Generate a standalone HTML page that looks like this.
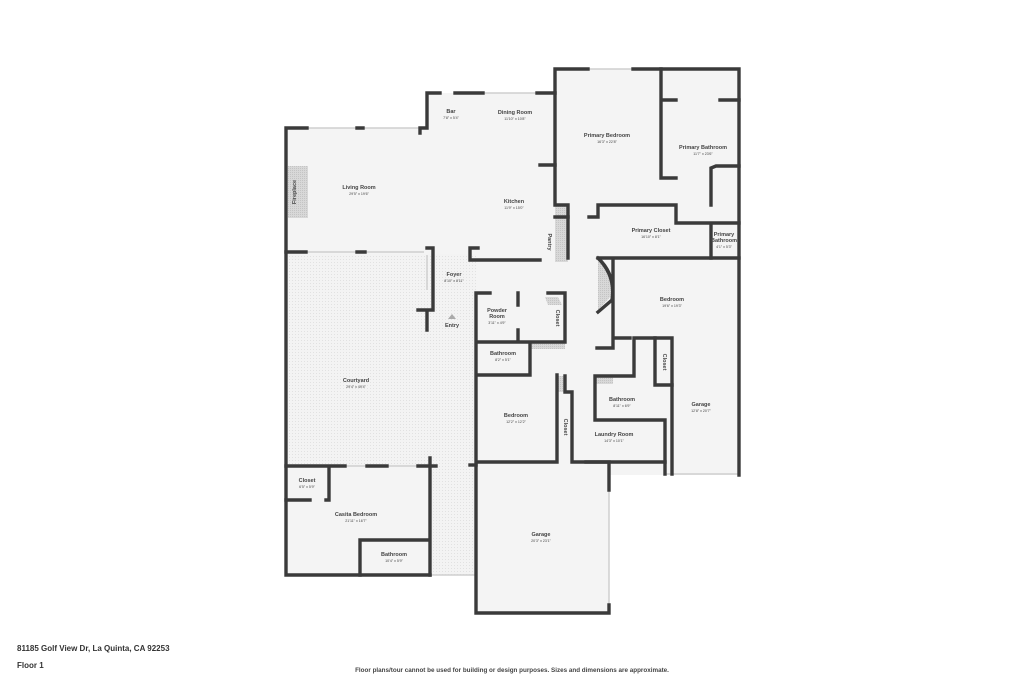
<!DOCTYPE html>
<html><head><meta charset="utf-8"><style>
html,body{margin:0;padding:0;background:#fff;}
svg{display:block;}
text{font-family:"Liberation Sans",sans-serif;fill:#444;}
.n{font-size:5.5px;font-weight:bold;text-anchor:middle;}
.d{font-size:3.6px;text-anchor:middle;}
</style></head><body>
<svg width="1024" height="683" viewBox="0 0 1024 683" xmlns="http://www.w3.org/2000/svg">
<defs>
<pattern id="dots" width="3" height="3" patternUnits="userSpaceOnUse"><rect width="3" height="3" fill="#f3f3f3"/><circle cx="1.5" cy="1.5" r="0.5" fill="#dcdcdc"/></pattern>
<pattern id="hatch" width="2" height="2" patternUnits="userSpaceOnUse"><rect width="2" height="2" fill="#d8d8d8"/><rect width="1" height="1" fill="#c4c4c4"/></pattern>
</defs>
<g fill="#f4f4f4">
<rect x="286" y="128" width="270" height="126"/>
<rect x="427" y="93" width="128" height="40"/>
<rect x="555" y="69" width="184" height="406"/>
<rect x="427" y="252" width="190" height="215"/>
<rect x="476" y="462" width="133" height="151"/>
<rect x="286" y="466" width="144" height="109"/>
<rect x="609" y="420" width="60" height="45"/>
</g>
<rect x="288" y="254" width="188" height="212" fill="url(#dots)"/>
<rect x="430" y="466" width="46" height="109" fill="url(#dots)"/>
<rect x="288" y="166" width="20" height="52" fill="url(#hatch)"/>
<rect x="555" y="205" width="13" height="57" fill="url(#hatch)"/>
<rect x="530" y="341" width="35" height="8" fill="url(#hatch)"/>
<rect x="557" y="376" width="8" height="16" fill="url(#hatch)"/>
<rect x="595" y="376" width="18" height="8" fill="url(#hatch)"/>
<path d="M598,258 Q614,275 612,295 L598,310 Z" fill="url(#hatch)"/>
<path d="M545,297 L558,297 L562,305 L548,305 Z" fill="url(#hatch)"/>
<g stroke="#cfcfcf" stroke-width="1.5" fill="none">
<path d="M307,128H424M286,252H424M483,93H537M588,69H633M686,69H717M739,283V318M609,490V605M665,474H739M430,575H476M427,255V290M427,100V125M345,466H367M387,466H418"/>
</g>
<g stroke="#3a3a3a" stroke-width="3.4" fill="none" stroke-linecap="square">
<path d="M307,128H286V575H430"/>
<path d="M286,252H306M357,252H365M357,128H363"/>
<path d="M420,133V128H427V93H440M455,93H483M537,93H555V69H588M633,69H739V475M665,474V420H595V376H634V338H672V474"/>
<path d="M661,69V178H676M661,100H676M720,100H739M555,93V205H568V258"/>
<path d="M540,165H555M540,260H470V248H478"/>
<path d="M555,217H568M589,217H598V205H676V223H739M711,223V258M711,205V168L716,166H739"/>
<path d="M598,258H739M613,258V338H630M613,338V348H597M598,258Q616,275 612,300L598,312"/>
<path d="M655,338V385H672"/>
<path d="M427,248H433V310H418M427,310V330"/>
<path d="M476,330V293H490M476,293V613H609V605M609,490V462H572M476,462H557V392M476,342H565V293H548M518,293V305M518,330V342M530,342V375H476M557,375V462M565,376V392H572V462"/>
<path d="M586,462H665"/>
<path d="M430,458V575M430,466H436M286,466H345M367,466H387M418,466H430M329,466V500M286,500H310M326,500H329M360,540H430M360,540V575"/>
<path d="M470,465H476"/>
</g>
<text class="n" x="451" y="113">Bar</text><text class="d" x="451" y="119">7'8" x 5'4"</text>
<text class="n" x="515" y="114">Dining Room</text><text class="d" x="515" y="120">11'10" x 10'8"</text>
<text class="n" x="607" y="137">Primary Bedroom</text><text class="d" x="607" y="143">16'3" x 22'8"</text>
<text class="n" x="703" y="149">Primary Bathroom</text><text class="d" x="703" y="155">11'7" x 23'6"</text>
<text class="n" x="359" y="189">Living Room</text><text class="d" x="359" y="195">29'5" x 19'6"</text>
<text class="n" x="514" y="203">Kitchen</text><text class="d" x="514" y="209">11'9" x 15'0"</text>
<text class="n" x="651" y="232">Primary Closet</text><text class="d" x="651" y="238">16'10" x 8'1"</text>
<text class="n" x="724" y="236">Primary</text><text class="n" x="724" y="242">Bathroom</text><text class="d" x="724" y="248">4'1" x 5'3"</text>
<text class="n" x="454" y="276">Foyer</text><text class="d" x="454" y="282">8'10" x 8'11"</text>
<text class="n" x="672" y="301">Bedroom</text><text class="d" x="672" y="307">19'6" x 19'3"</text>
<text class="n" x="497" y="312">Powder</text><text class="n" x="497" y="318">Room</text><text class="d" x="497" y="324">3'11" x 4'9"</text>
<text class="n" x="452" y="327">Entry</text>
<path d="M448,319L452,314L456,319Z" fill="#aaa"/>
<text class="n" x="503" y="355">Bathroom</text><text class="d" x="503" y="361">8'2" x 5'1"</text>
<text class="n" x="356" y="382">Courtyard</text><text class="d" x="356" y="388">29'4" x 49'4"</text>
<text class="n" x="622" y="401">Bathroom</text><text class="d" x="622" y="407">8'11" x 6'9"</text>
<text class="n" x="701" y="406">Garage</text><text class="d" x="701" y="412">12'8" x 20'7"</text>
<text class="n" x="516" y="417">Bedroom</text><text class="d" x="516" y="423">12'2" x 12'2"</text>
<text class="n" x="614" y="436">Laundry Room</text><text class="d" x="614" y="442">14'3" x 10'1"</text>
<text class="n" x="307" y="482">Closet</text><text class="d" x="307" y="488">6'5" x 5'9"</text>
<text class="n" x="356" y="516">Casita Bedroom</text><text class="d" x="356" y="522">21'11" x 16'7"</text>
<text class="n" x="541" y="536">Garage</text><text class="d" x="541" y="542">20'3" x 23'1"</text>
<text class="n" x="394" y="556">Bathroom</text><text class="d" x="394" y="562">10'4" x 5'9"</text>
<text class="n" transform="translate(296,192) rotate(-90)">Fireplace</text>
<text class="n" transform="translate(548,242) rotate(90)">Pantry</text>
<text class="n" transform="translate(556,318) rotate(90)">Closet</text>
<text class="n" transform="translate(663,362) rotate(90)">Closet</text>
<text class="n" transform="translate(564,427) rotate(90)">Closet</text>
<text x="17" y="651" style="font-size:8px;font-weight:bold;fill:#333">81185 Golf View Dr, La Quinta, CA 92253</text>
<text x="17" y="668" style="font-size:8px;font-weight:bold;fill:#333">Floor 1</text>
<text x="512" y="672" style="font-size:6.3px;font-weight:bold;fill:#444;text-anchor:middle">Floor plans/tour cannot be used for building or design purposes. Sizes and dimensions are approximate.</text>
</svg>
</body></html>
